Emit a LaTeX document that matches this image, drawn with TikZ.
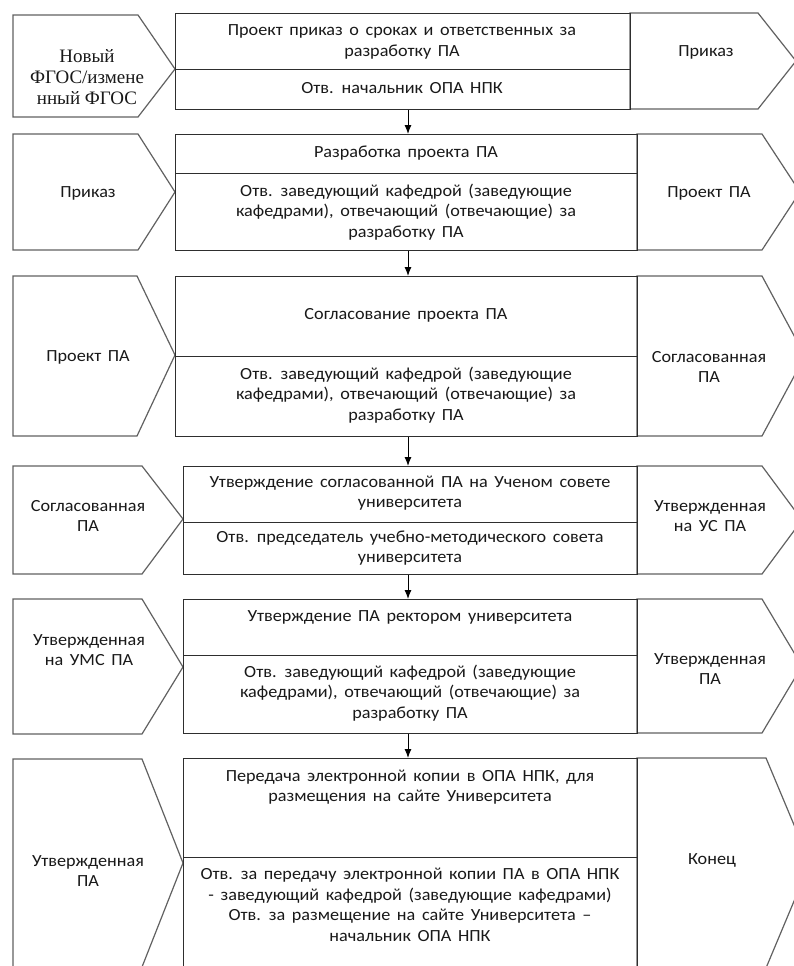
\documentclass[tikz,border=0pt]{standalone}
\usepackage{fontspec}
\setmainfont[FakeStretch=1.07,WordSpace=1.6]{Carlito}
\newfontfamily\serifru{Liberation Serif}
\usetikzlibrary{arrows.meta}
\begin{document}
\begin{tikzpicture}[x=1pt,y=-1pt,
  sec/.style={draw=black!82, line width=1.2pt, anchor=north west, inner sep=0pt},
  chev/.style={draw=black!62, line width=1.2pt, line join=miter},
  lbl/.style={align=center, inner sep=0pt, text=black!90, font=\fontsize{17}{20.5}\selectfont},
  flow/.style={-{Latex[length=9pt,width=7pt]}, line width=1pt, draw=black}]
\useasboundingbox (0,0) rectangle (794,966);
\clip (0,0) rectangle (794,966);
\fill[white] (0,0) rectangle (794,966);
\coordinate (ax) at (408,0);

% ---------- chevrons ----------
\draw[chev] (13,15) -- (138,15) -- (175,69) -- (138,117) -- (13,117) -- cycle;
\draw[chev] (630,13) -- (758,13) -- (796,61) -- (758,109) -- (630,109) -- cycle;
\draw[chev] (13,134) -- (138,134) -- (175,192) -- (138,250) -- (13,250) -- cycle;
\draw[chev] (637,134) -- (762,134) -- (800,192) -- (762,250) -- (637,250) -- cycle;
\draw[chev] (13,276) -- (137,276) -- (175,355) -- (137,436) -- (13,436) -- cycle;
\draw[chev] (637,276) -- (762,276) -- (805,356) -- (762,436) -- (637,436) -- cycle;
\draw[chev] (13,466) -- (142,466) -- (183,519) -- (142,574) -- (13,574) -- cycle;
\draw[chev] (637,466) -- (762,466) -- (802,520) -- (762,574) -- (637,574) -- cycle;
\draw[chev] (13,599) -- (142,599) -- (183,667) -- (142,734) -- (13,734) -- cycle;
\draw[chev] (637,599) -- (762,599) -- (802,666) -- (762,733) -- (637,733) -- cycle;
\draw[chev] (13,759) -- (142,759) -- (183,863) -- (142,967) -- (13,967) -- cycle;
\draw[chev] (637,758) -- (766,758) -- (810,863) -- (766,968) -- (637,968) -- cycle;

% ---------- process boxes ----------
\node[sec, minimum width=455pt, minimum height=56pt] (t1) at (175,13) {};
\node[sec, minimum width=455pt, minimum height=40pt] (b1) at (175,69) {};
\node[sec, minimum width=462pt, minimum height=39pt] (t2) at (175,134) {};
\node[sec, minimum width=462pt, minimum height=77pt] (b2) at (175,173) {};
\node[sec, minimum width=462pt, minimum height=80pt] (t3) at (175,276) {};
\node[sec, minimum width=462pt, minimum height=80pt] (b3) at (175,356) {};
\node[sec, minimum width=454pt, minimum height=56pt] (t4) at (183,466) {};
\node[sec, minimum width=454pt, minimum height=52pt] (b4) at (183,522) {};
\node[sec, minimum width=454pt, minimum height=56pt] (t5) at (183,599) {};
\node[sec, minimum width=454pt, minimum height=78pt] (b5) at (183,655) {};
\node[sec, minimum width=454pt, minimum height=99pt] (t6) at (183,758) {};
\node[sec, minimum width=454pt, minimum height=120pt] (b6) at (183,857) {};

% ---------- arrows ----------
\draw[flow] (b1.south -| ax) -- (t2.north -| ax);
\draw[flow] (b2.south -| ax) -- (t3.north -| ax);
\draw[flow] (b3.south -| ax) -- (t4.north -| ax);
\draw[flow] (b4.south -| ax) -- (t5.north -| ax);
\draw[flow] (b5.south -| ax) -- (t6.north -| ax);

% ---------- texts: row 1 ----------
\node[lbl, font=\serifru\fontsize{19}{21}\selectfont] (in1) at (87,77) {Новый\\ФГОС/измене\\нный ФГОС};
\node[lbl] (t1x) at (402,42) {Проект приказ о сроках и ответственных за\\разработку ПА};
\node[lbl] (b1x) at (402,88) {Отв. начальник ОПА НПК};
\node[lbl] (out1) at (706,52) {Приказ};
% row 2
\node[lbl] (in2) at (88,193) {Приказ};
\node[lbl] (t2x) at (406,153) {Разработка проекта ПА};
\node[lbl] (b2x) at (406,212) {Отв. заведующий кафедрой (заведующие\\кафедрами), отвечающий (отвечающие) за\\разработку ПА};
\node[lbl] (out2) at (709,193) {Проект ПА};
% row 3
\node[lbl] (in3) at (88,357) {Проект ПА};
\node[lbl] (t3x) at (406,315) {Согласование проекта ПА};
\node[lbl] (b3x) at (406,395) {Отв. заведующий кафедрой (заведующие\\кафедрами), отвечающий (отвечающие) за\\разработку ПА};
\node[lbl] (out3) at (709,367) {Согласованная\\ПА};
% row 4
\node[lbl] (in4) at (88,516) {Согласованная\\ПА};
\node[lbl] (t4x) at (410,493) {Утверждение согласованной ПА на Ученом совете\\университета};
\node[lbl] (b4x) at (410,548) {Отв. председатель учебно-методического совета\\университета};
\node[lbl] (out4) at (710,516) {Утвержденная\\на УС ПА};
% row 5
\node[lbl] (in5) at (89,650) {Утвержденная\\на УМС ПА};
\node[lbl] (t5x) at (410,617) {Утверждение ПА ректором университета};
\node[lbl] (b5x) at (410,693) {Отв. заведующий кафедрой (заведующие\\кафедрами), отвечающий (отвечающие) за\\разработку ПА};
\node[lbl] (out5) at (710,669) {Утвержденная\\ПА};
% row 6
\node[lbl] (in6) at (88,871) {Утвержденная\\ПА};
\node[lbl] (t6x) at (410,787) {Передача электронной копии в ОПА НПК, для\\размещения на сайте Университета};
\node[lbl] (b6x) at (410,905) {Отв. за передачу электронной копии ПА в ОПА НПК\\- заведующий кафедрой (заведующие кафедрами)\\Отв. за размещение на сайте Университета –\\начальник ОПА НПК};
\node[lbl] (out6) at (712,860) {Конец};
\end{tikzpicture}
\end{document}
